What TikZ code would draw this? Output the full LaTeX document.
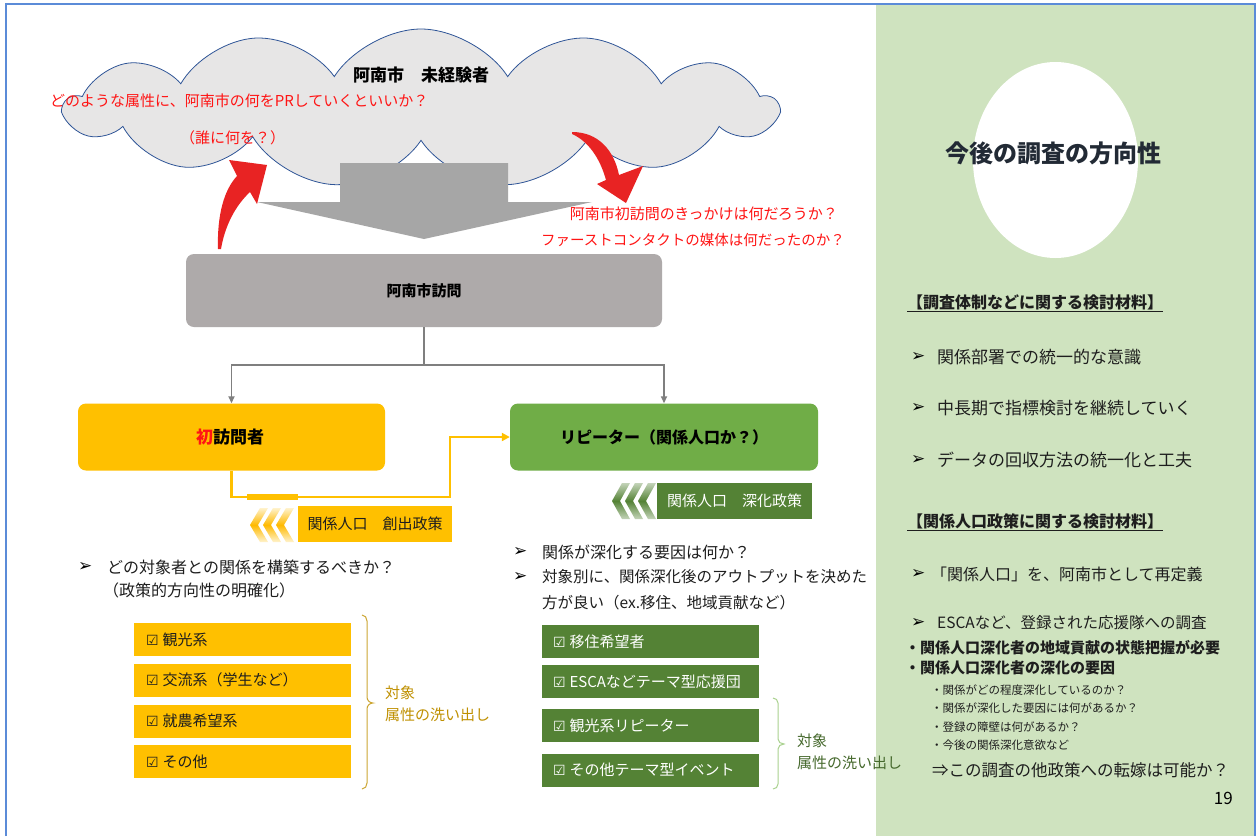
\documentclass[tikz,border=0pt]{standalone}
\usepackage{fontspec}
\setmainfont{Noto Sans CJK JP}
\newfontfamily\symfont{DejaVu Sans}
\usetikzlibrary{shapes.symbols,shapes.geometric,arrows.meta}
\definecolor{frameblue}{RGB}{91,139,216}
\definecolor{panelgreen}{RGB}{207,227,191}
\definecolor{cloudfill}{RGB}{231,230,230}
\definecolor{cloudline}{RGB}{47,85,151}
\definecolor{blockgray}{RGB}{166,166,166}
\definecolor{boxgray}{RGB}{174,170,170}
\definecolor{conngray}{RGB}{127,127,127}
\definecolor{amber}{RGB}{255,192,0}
\definecolor{leaf}{RGB}{112,173,71}
\definecolor{moss}{RGB}{84,130,53}
\definecolor{alertred}{RGB}{255,20,20}
\definecolor{arrowred}{RGB}{232,35,35}
\definecolor{goldtxt}{RGB}{191,144,0}
\definecolor{olivetxt}{RGB}{70,105,45}
\definecolor{lightleaf}{RGB}{169,209,142}
\definecolor{inktxt}{RGB}{30,30,30}
\definecolor{titleink}{RGB}{34,42,53}
\newcommand\fsz[1]{\fontsize{#1}{#1}\selectfont}
\newcommand\bul{{\symfont\fsz{17}\color{black}➢}}
\newcommand\chk{{\symfont\fsz{14}☑}\hspace{0.25em}}
\begin{document}
\begin{tikzpicture}[x=1pt,y=-1pt,
  txt/.style={inner sep=0pt, anchor=west, text=inktxt},
  redq/.style={inner sep=0pt, text=alertred, font=\fsz{15}},
  conn/.style={draw=conngray, line width=1.6pt, -{Triangle[length=7pt,width=6pt]}},
  amberline/.style={draw=amber, line width=2.5pt},
  amberitem/.style={fill=amber, anchor=west, minimum width=217pt, minimum height=33pt, inner xsep=12pt, text width=193pt, align=left, font=\fsz{15}, text=inktxt},
  mossitem/.style={fill=moss, anchor=west, minimum width=217pt, minimum height=33pt, inner xsep=11pt, text width=195pt, align=left, font=\fsz{15}, text=white},
  panelbul/.style={inner sep=0pt, anchor=west, text=inktxt, font=\fsz{17}},
]
\useasboundingbox (0,0) rectangle (1258,836);
\fill[white] (0,0) rectangle (1258,836);
% right panel
\fill[panelgreen] (876,5) rectangle (1254,836);
\node[ellipse, fill=white, minimum width=165pt, minimum height=196pt, inner sep=0pt] (oval) at (1055.5,160) {};
\node[inner sep=0pt, text=titleink, font=\bfseries\fsz{24}] (ptitle) at (1053.5,153) {今後の調査の方向性};

\node[txt, font=\bfseries\fsz{16}] (h1) at (907,303) {\underline{【調査体制などに関する検討材料】}};
\node[txt] (b1a) at (911,357) {\bul};
\node[panelbul] (b1) at (937,357) {関係部署での統一的な意識};
\node[txt] (b2a) at (911,408) {\bul};
\node[panelbul] (b2) at (937,408) {中長期で指標検討を継続していく};
\node[txt] (b3a) at (911,460) {\bul};
\node[panelbul] (b3) at (937,460) {データの回収方法の統一化と工夫};
\node[txt, font=\bfseries\fsz{16}] (h2) at (907,522) {\underline{【関係人口政策に関する検討材料】}};
\node[txt] (b4a) at (911,574) {\bul};
\node[panelbul, font=\fsz{16}] (b4) at (931,574) {「関係人口」を、阿南市として再定義};
\node[txt] (b5a) at (911,623) {\bul};
\node[panelbul, font=\fsz{15.5}] (b5) at (937,623) {ESCAなど、登録された応援隊への調査};
\node[txt, font=\bfseries\fsz{15}] (s1) at (905,648) {・関係人口深化者の地域貢献の状態把握が必要};
\node[txt, font=\bfseries\fsz{15}] (s2) at (905,668) {・関係人口深化者の深化の要因};
\node[txt, font=\fsz{11.5}] (t1) at (931,690) {・関係がどの程度深化しているのか？};
\node[txt, font=\fsz{11.5}] (t2) at (931,708) {・関係が深化した要因には何があるか？};
\node[txt, font=\fsz{11.5}] (t3) at (931,727) {・登録の障壁は何があるか？};
\node[txt, font=\fsz{11.5}] (t4) at (931,745) {・今後の関係深化意欲など};
\node[txt, font=\fsz{16.5}] (conc) at (932,770) {⇒この調査の他政策への転嫁は可能か？};
\node[inner sep=0pt, anchor=east, text=black, font=\fsz{17}] (pnum) at (1233,798) {19};

% cloud
\node[cloud, cloud puffs=13, cloud puff arc=115, cloud ignores aspect, minimum width=712pt, minimum height=158pt, fill=cloudfill, draw=cloudline, line width=0.8pt] (cloud) at (421,108) {};
\node[inner sep=0pt, text=black, font=\bfseries\fsz{17}] (ctitle) at (421,75) {阿南市　未経験者};
\node[redq, anchor=west] (q1) at (50,101) {どのような属性に、阿南市の何をPRしていくといいか？};
\node[redq, anchor=west] (q2) at (180,138) {（誰に何を？）};

% gray block arrow
\fill[blockgray] (340,163) -- (508,163) -- (508,202) -- (592,202) -- (424,239) -- (257,202) -- (340,202) -- cycle;

% red curved arrows
\fill[arrowred] (218,249) .. controls (217,215) and (224,190) .. (237,176) -- (229,160) -- (267,165) -- (257,204) -- (250,192) .. controls (236,205) and (225,225) .. (221,249) -- cycle;
\fill[arrowred] (572,132) .. controls (598,132) and (614,150) .. (619,175) -- (643,166) -- (626,203) -- (597,184) -- (606,180) .. controls (600,158) and (588,141) .. (572,134) -- cycle;

\node[redq, anchor=east] (q3) at (838,214) {阿南市初訪問のきっかけは何だろうか？};
\node[redq, anchor=east, font=\fsz{14.5}] (q4) at (845,240) {ファーストコンタクトの媒体は何だったのか？};

% main boxes
\node[rounded corners=8pt, fill=boxgray, minimum width=476pt, minimum height=73pt, text=black, font=\bfseries\fsz{15}] (visit) at (424,290.5) {阿南市訪問};
\node[rounded corners=8pt, fill=amber, minimum width=307pt, minimum height=67pt] (first) at (231.5,437) {};
\node[txt, text=black, font=\bfseries\fsz{17}] (firstlbl) at (196,437) {{\color{alertred}初}訪問者};
\node[rounded corners=8pt, fill=leaf, minimum width=308pt, minimum height=67pt, text=black, font=\bfseries\fsz{16}] (repeater) at (664,437) {リピーター（関係人口か？）};

% connectors
\coordinate (split) at (424,365);
\draw[conngray, line width=1.6pt] (visit.south) -- (split);
\draw[conn] (split) -| (first.north);
\draw[conn] (split) -| (repeater.north);
\coordinate (elbow) at (450,497);
\draw[amberline, -{Triangle[length=8pt,width=8pt]}] (first.south) |- (elbow) |- (repeater.west);
\fill[amber] (247,494) rectangle (298,499.5);

% chevron labels
\foreach \dx in {0,13,26} {
  \shade[top color=amber!20, bottom color=amber!20, middle color=amber!90!orange]
    (250+\dx+10,508) -- (250+\dx+18,508) -- (250+\dx+8,525) -- (250+\dx+18,542) -- (250+\dx+10,542) -- (250+\dx,525) -- cycle;
  \shade[top color=moss!35, bottom color=moss!35, middle color=moss]
    (612+\dx+10,483) -- (612+\dx+18,483) -- (612+\dx+8,501) -- (612+\dx+18,519) -- (612+\dx+10,519) -- (612+\dx,501) -- cycle;
}
\node[fill=amber, minimum width=154pt, minimum height=36pt, inner sep=0pt, text=inktxt, font=\fsz{15}] (createlbl) at (375,524) {関係人口\hspace{1em}創出政策};
\node[fill=moss, minimum width=155pt, minimum height=36pt, inner sep=0pt, text=white, font=\fsz{15}] (deeplbl) at (734.5,501) {関係人口\hspace{1em}深化政策};

% left list
\node[txt] (l1a) at (78,567) {\bul};
\node[txt, font=\fsz{16}] (l1) at (107,567) {どの対象者との関係を構築するべきか？};
\node[txt, font=\fsz{16}] (l2) at (103,590) {（政策的方向性の明確化）};
\node[amberitem] (li1) at (134,639.5) {\chk 観光系};
\node[amberitem] (li2) at (134,680) {\chk 交流系（学生など）};
\node[amberitem] (li3) at (134,721) {\chk 就農希望系};
\node[amberitem] (li4) at (134,761.5) {\chk その他};
\draw[goldtxt!80, line width=1pt] (362,615) to[out=0,in=90] (367,621) -- (367,697) to[out=270,in=180] (373,703) to[out=180,in=90] (367,709) -- (367,783) to[out=270,in=0] (362,789);
\node[txt, text=goldtxt, font=\fsz{15}] (lt1) at (385,693) {対象};
\node[txt, text=goldtxt, font=\fsz{15}] (lt2) at (385,715) {属性の洗い出し};

% right list
\node[txt] (r1a) at (513,552) {\bul};
\node[txt, font=\fsz{16}] (r1) at (542,552) {関係が深化する要因は何か？};
\node[txt] (r2a) at (513,577) {\bul};
\node[txt, font=\fsz{15.5}] (r2) at (542,577) {対象別に、関係深化後のアウトプットを決めた};
\node[txt, font=\fsz{15.5}] (r3) at (542,603) {方が良い（ex.移住、地域貢献など）};
\node[mossitem] (ri1) at (542,641.5) {\chk 移住希望者};
\node[mossitem] (ri2) at (542,681.5) {\chk ESCAなどテーマ型応援団};
\node[mossitem] (ri3) at (542,725.5) {\chk 観光系リピーター};
\node[mossitem] (ri4) at (542,770) {\chk その他テーマ型イベント};
\draw[lightleaf, line width=1pt] (773,698) to[out=0,in=90] (778,703) -- (778,739) to[out=270,in=180] (784,744) to[out=180,in=90] (778,749) -- (778,784) to[out=270,in=0] (773,789);
\node[txt, text=olivetxt, font=\fsz{15}] (rt1) at (797,741) {対象};
\node[txt, text=olivetxt, font=\fsz{15}] (rt2) at (797,763) {属性の洗い出し};

% frame
\draw[frameblue, line width=2pt] (6,836) -- (6,4) -- (1255,4) -- (1255,836);
\end{tikzpicture}
\end{document}
